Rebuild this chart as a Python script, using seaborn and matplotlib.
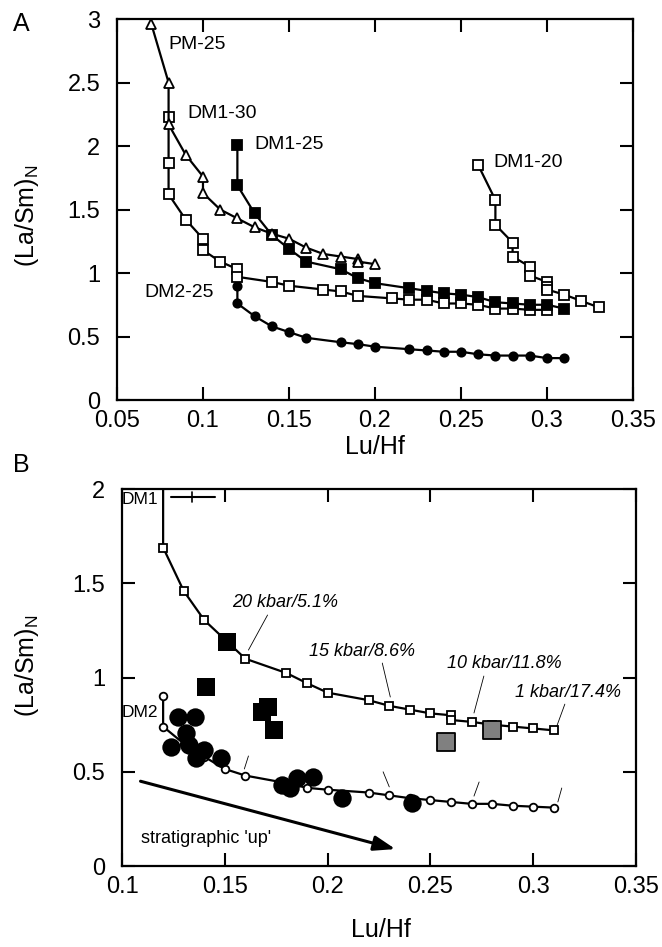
import numpy as np
import pandas as pd
import seaborn as sns
import matplotlib.pyplot as plt

# === Dati pannello A ===
pm25_x = [0.07, 0.08, 0.08, 0.09, 0.10, 0.10, 0.11, 0.12, 0.13, 0.14, 0.15, 0.16, 0.17, 0.18, 0.19, 0.19, 0.20]
pm25_y = [2.96, 2.50, 2.17, 1.93, 1.76, 1.63, 1.50, 1.43, 1.36, 1.31, 1.27, 1.20, 1.15, 1.13, 1.11, 1.09, 1.07]

dm130_x = [0.08, 0.08, 0.08, 0.09, 0.10, 0.10, 0.11, 0.12, 0.12, 0.14, 0.15, 0.17, 0.18, 0.19, 0.21, 0.22,
           0.23, 0.24, 0.25, 0.26, 0.27, 0.28, 0.29, 0.30]
dm130_y = [2.23, 1.87, 1.62, 1.42, 1.27, 1.18, 1.09, 1.03, 0.97, 0.93, 0.90, 0.87, 0.855, 0.82, 0.80, 0.79,
           0.79, 0.76, 0.76, 0.75, 0.72, 0.72, 0.71, 0.71]

dm125_x = [0.12, 0.12, 0.13, 0.14, 0.15, 0.16, 0.18, 0.19, 0.20, 0.22, 0.23, 0.24, 0.25, 0.26, 0.27, 0.28, 0.29, 0.30, 0.31]
dm125_y = [2.01, 1.69, 1.47, 1.30, 1.19, 1.09, 1.03, 0.96, 0.92, 0.88, 0.86, 0.84, 0.83, 0.81, 0.77, 0.76, 0.75, 0.75, 0.72]

dm120_x = [0.26, 0.27, 0.27, 0.28, 0.28, 0.29, 0.29, 0.30, 0.30, 0.30, 0.31, 0.32, 0.33]
dm120_y = [1.85, 1.575, 1.38, 1.24, 1.13, 1.05, 0.98, 0.93, 0.89, 0.87, 0.83, 0.78, 0.73]

dm225_x = [0.12, 0.12, 0.13, 0.14, 0.15, 0.16, 0.18, 0.19, 0.20, 0.22, 0.23, 0.24, 0.25, 0.26, 0.27, 0.28, 0.29, 0.30, 0.31]
dm225_y = [0.90, 0.76, 0.66, 0.58, 0.535, 0.49, 0.455, 0.44, 0.42, 0.40, 0.39, 0.38, 0.38, 0.36, 0.35, 0.35, 0.35, 0.33, 0.33]

labels_A = ['PM-25', 'DM1-30', 'DM1-25', 'DM1-20', 'DM2-25']
labels_A_x = [0.080, 0.091, 0.130, 0.269, 0.066]
labels_A_y = [2.80, 2.26, 2.01, 1.87, 0.85]

# === Dati pannello B ===
dm1_x = [0.12, 0.12, 0.13, 0.14, 0.16, 0.18, 0.19, 0.20, 0.22, 0.23, 0.24, 0.25, 0.26, 0.26, 0.27, 0.28, 0.29, 0.30, 0.31]
dm1_y = [2.05, 1.69, 1.46, 1.305, 1.10, 1.024, 0.97, 0.92, 0.88, 0.85, 0.83, 0.81, 0.80, 0.775, 0.765, 0.75, 0.74, 0.73, 0.72]

dm2_x = [0.12, 0.12, 0.13, 0.14, 0.15, 0.16, 0.18, 0.19, 0.20, 0.22, 0.23, 0.24, 0.25, 0.26, 0.27, 0.28, 0.29, 0.30, 0.31]
dm2_y = [0.90, 0.74, 0.65, 0.58, 0.515, 0.48, 0.44, 0.415, 0.405, 0.39, 0.375, 0.36, 0.35, 0.34, 0.33, 0.33, 0.32, 0.315, 0.31]

sq_black_x = [0.151, 0.141, 0.168, 0.171, 0.174]
sq_black_y = [1.19, 0.95, 0.82, 0.845, 0.72]
sq_grey_x = [0.2575, 0.280]
sq_grey_y = [0.66, 0.72]

circ_x = [0.127, 0.1355, 0.131, 0.124, 0.1325, 0.140, 0.136, 0.148, 0.178, 0.1815, 0.185, 0.193, 0.207, 0.241]
circ_y = [0.79, 0.79, 0.706, 0.63, 0.64, 0.615, 0.573, 0.573, 0.43, 0.414, 0.467, 0.472, 0.36, 0.334]

# barra d'errore DM1 (x min, x centro, x max, y)
dm1_err = [0.124, 0.134, 0.145, 1.958]

press_labels = ['20 kbar/5.1%', '15 kbar/8.6%', '10 kbar/11.8%', '1 kbar/17.4%']
press_x = [0.1536, 0.191, 0.258, 0.291]
press_y = [1.40, 1.14, 1.077, 0.923]
# segmenti guida: (x1, y1, x2, y2)
leader_up = [(0.1708, 1.332, 0.1615, 1.146), (0.2266, 1.077, 0.2305, 0.897),
             (0.276, 1.008, 0.2712, 0.812), (0.3154, 0.859, 0.3115, 0.743)]
leader_low = [(0.1615, 0.584, 0.1595, 0.515), (0.227, 0.50, 0.230, 0.42),
              (0.2737, 0.446, 0.2712, 0.371), (0.3139, 0.414, 0.312, 0.34)]

arrow_start = (0.109, 0.45)
arrow_end = (0.233, 0.09)

# === Stile ===
sns.set_style('ticks')
plt.rcParams['font.family'] = ['Liberation Sans', 'DejaVu Sans']
plt.rcParams['mathtext.fontset'] = 'custom'
plt.rcParams['mathtext.rm'] = 'Liberation Sans'
for k in ['text.color', 'axes.labelcolor', 'xtick.color', 'ytick.color', 'axes.edgecolor']:
    plt.rcParams[k] = 'black'

fig = plt.figure(figsize=(6.62, 9.47), dpi=100)
axA = fig.add_axes([0.1767, 0.5776, 0.7795, 0.4023])
axB = fig.add_axes([0.1843, 0.0855, 0.7764, 0.398])

LW = 1.6


def serie(ax, x, y, marker, fill, ms, **kw):
    sns.lineplot(x=x, y=y, ax=ax, sort=False, estimator=None, color='black', lw=LW,
                 marker=marker, mfc=fill, mec='black', mew=1.3, ms=ms, **kw)


# === Pannello A ===
serie(axA, dm225_x, dm225_y, 'o', 'black', 6)
serie(axA, dm130_x, dm130_y, 's', 'white', 6.5)
serie(axA, dm120_x, dm120_y, 's', 'white', 6.5)
serie(axA, dm125_x, dm125_y, 's', 'black', 6.5)
serie(axA, pm25_x, pm25_y, '^', 'white', 7, clip_on=False)

for lab, lx, ly in zip(labels_A, labels_A_x, labels_A_y):
    axA.text(lx, ly, lab, fontsize=14, ha='left', va='center')

axA.set_xlim(0.05, 0.35)
axA.set_ylim(0, 3)
axA.set_xticks(np.arange(0.05, 0.36, 0.05))
axA.set_xticklabels(['0.05', '0.1', '0.15', '0.2', '0.25', '0.3', '0.35'])
axA.set_yticks(np.arange(0, 3.01, 0.5))
axA.set_yticklabels(['0', '0.5', '1', '1.5', '2', '2.5', '3'])

# === Pannello B ===
serie(axB, dm1_x, dm1_y, 's', 'white', 6, markevery=list(range(1, len(dm1_x))))
serie(axB, dm2_x, dm2_y, 'o', 'white', 5.5)

sns.scatterplot(x=circ_x, y=circ_y, ax=axB, marker='o', s=175, color='black', linewidth=0, zorder=5)
sns.scatterplot(x=sq_black_x, y=sq_black_y, ax=axB, marker='s', s=150, color='black', linewidth=0, zorder=5)
sns.scatterplot(x=sq_grey_x, y=sq_grey_y, ax=axB, marker='s', s=150, color='#808080',
                edgecolor='black', linewidth=1.3, zorder=5)

axB.plot([dm1_err[0], dm1_err[2]], [dm1_err[3], dm1_err[3]], color='black', lw=1.5)
axB.plot([dm1_err[1], dm1_err[1]], [dm1_err[3] - 0.025, dm1_err[3] + 0.025], color='black', lw=1.2)
axB.text(0.1, 1.947, 'DM1', fontsize=12.5, ha='left', va='center')
axB.text(0.1, 0.817, 'DM2', fontsize=12.5, ha='left', va='center')

for lab, px, py in zip(press_labels, press_x, press_y):
    axB.text(px, py, lab, fontsize=13, style='italic', ha='left', va='center')
for x1, y1, x2, y2 in leader_up + leader_low:
    axB.plot([x1, x2], [y1, y2], color='black', lw=0.6)

axB.annotate('', xy=arrow_end, xytext=arrow_start,
             arrowprops=dict(arrowstyle='-|>,head_length=1.3,head_width=0.45', lw=2.2,
                             color='black', shrinkA=0, shrinkB=0))
axB.text(0.109, 0.148, "stratigraphic 'up'", fontsize=13, ha='left', va='center')

axB.set_xlim(0.1, 0.35)
axB.set_ylim(0, 2)
axB.set_xticks(np.arange(0.1, 0.36, 0.05))
axB.set_xticklabels(['0.1', '0.15', '0.2', '0.25', '0.3', '0.35'])
axB.set_yticks(np.arange(0, 2.01, 0.5))
axB.set_yticklabels(['0', '0.5', '1', '1.5', '2'])

for ax in (axA, axB):
    ax.set_xlabel('')
    ax.set_ylabel('')
    for sp in ax.spines.values():
        sp.set_visible(True)
        sp.set_linewidth(1.6)
        sp.set_color('black')
    ax.tick_params(direction='in', top=True, right=True, length=9.5, width=1.5,
                   labelsize=17, pad=7, colors='black')
    ax.tick_params(axis='y', pad=12)

# etichette assi
fig.text(0.567, 0.528, 'Lu/Hf', fontsize=18, ha='center', va='center')
fig.text(0.575, 0.018, 'Lu/Hf', fontsize=18, ha='center', va='center')
fig.text(0.041, 0.772, '(La/Sm)$_\\mathregular{N}$', fontsize=18, rotation=90, ha='center', va='center')
fig.text(0.041, 0.297, '(La/Sm)$_\\mathregular{N}$', fontsize=18, rotation=90, ha='center', va='center')
fig.text(0.032, 0.975, 'A', fontsize=18, ha='center', va='center')
fig.text(0.032, 0.509, 'B', fontsize=18, ha='center', va='center')

plt.savefig('out.png', dpi=100)
